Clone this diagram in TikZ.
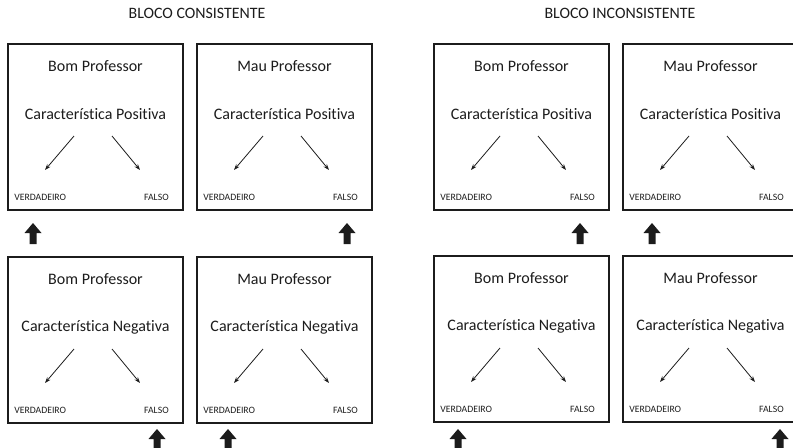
\documentclass[tikz,border=0pt]{standalone}
\usepackage{fontspec}
\setmainfont{Carlito}[Ligatures=NoCommon]
\usetikzlibrary{arrows.meta}
\definecolor{preto}{HTML}{1C1C1C}

\begin{document}
\begin{tikzpicture}[x=0.75pt, y=-0.75pt,
    caixa/.style={draw=preto, line width=1.1pt, minimum width=131.25pt, minimum height=124.5pt, inner sep=0pt},
    titulo/.style={font=\fontsize{11.9}{13}\selectfont, text=preto},
    texto/.style={font=\fontsize{12}{14}\selectfont, text=preto},
    rotulo/.style={font=\fontsize{7.3}{8}\selectfont, text=preto, inner sep=0pt},
    fina/.style={-{Stealth[length=4.5pt,width=3.2pt]}, line width=0.6pt, preto},
    pics/seta/.style={code={
      \fill[preto] (0,0) -- (8.5,10) -- (3.5,10) -- (3.5,21) -- (-3.5,21)
        -- (-3.5,10) -- (-8.5,10) -- cycle;}}]
        \useasboundingbox (0,0) rectangle (793,447);
        \clip (0,0) rectangle (793,447);
        \node[titulo] (t1) at (197,13) {BLOCO CONSISTENTE};
        \node[titulo] (t2) at (620,13) {BLOCO INCONSISTENTE};
        % caixas: numero/x/y/professor/caracteristica
        \foreach \n/\x/\y/\cima/\baixo in {
            1/8/44/Bom Professor/Característica Positiva,
            2/197/44/Mau Professor/Característica Positiva,
            3/434/44/Bom Professor/Característica Positiva,
            4/623/44/Mau Professor/Característica Positiva,
            5/8/257/Bom Professor/Característica Negativa,
            6/197/257/Mau Professor/Característica Negativa,
            7/434/256/Bom Professor/Característica Negativa,
            8/623/256/Mau Professor/Característica Negativa} {
          \node[caixa] (c\n) at (\x+87.5,\y+83) {};
          \node[texto] (p\n) at (\x+87.5,\y+22) {\cima};
          \node[texto] (q\n) at (\x+87.5,\y+70) {\baixo};
          \node[rotulo, anchor=west] (v\n) at (\x+6,\y+153) {VERDADEIRO};
          \node[rotulo, anchor=east] (f\n) at (\x+161,\y+153) {FALSO};
          \coordinate (a\n) at (\x+66,\y+92);
          \coordinate (b\n) at (\x+37,\y+126);
          \coordinate (d\n) at (\x+104,\y+92);
          \coordinate (e\n) at (\x+132,\y+126);
          \draw[fina] (a\n) -- (b\n);
          \draw[fina] (d\n) -- (e\n);
        }
        % setas de resposta
        \pic (s1) at (33,223) {seta};
        \pic (s2) at (347,223) {seta};
        \pic (s3) at (580,223) {seta};
        \pic (s4) at (652,223) {seta};
        \pic (s5) at (157,429) {seta};
        \pic (s6) at (228,429) {seta};
        \pic (s7) at (458,429) {seta};
        \pic (s8) at (780,429) {seta};
      \end{tikzpicture}
\end{document}
